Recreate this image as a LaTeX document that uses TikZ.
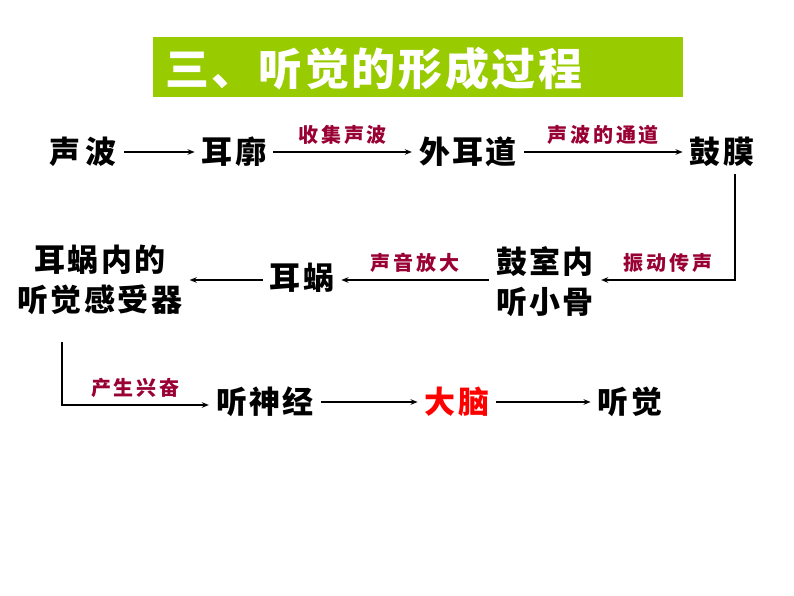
\documentclass[tikz,border=0pt]{standalone}
\usepackage{fontspec}
\usetikzlibrary{arrows.meta}
\newfontfamily\cjk[LetterSpace=8]{Noto Sans CJK SC}
\newfontfamily\cjktitle[LetterSpace=6]{Noto Sans CJK SC}
\newfontfamily\cjklab[LetterSpace=14]{Noto Sans CJK SC}
\definecolor{titlegreen}{HTML}{99CC00}
\definecolor{labred}{HTML}{990033}
\tikzset{
  x=1pt,y=-1pt,
  main/.style={font=\cjk\bfseries\fontsize{31}{40}\selectfont, inner sep=7pt, align=center},
  lab/.style={font=\cjklab\bfseries\fontsize{20}{22}\selectfont, text=labred, inner sep=2pt},
  arr/.style={line width=1.4pt, -{Stealth[length=7pt,width=5.5pt]}},
}
\begin{document}
\begin{tikzpicture}
\useasboundingbox[fill=white] (0,0) rectangle (794,596);
\fill[titlegreen] (153,37) rectangle (683,97);
\node[font=\cjktitle\bfseries\fontsize{44}{48}\selectfont, text=white, anchor=west, inner sep=0pt] (title) at (165,69) {三、听觉的形成过程};
% row 1
\node[main] (a) at (83,152) {声\,波};
\node[main] (b) at (234,152) {耳廓};
\node[main] (c) at (468,152) {外耳道};
\node[main] (d) at (722,152) {鼓膜};
% row 2
\node[main] (e) at (545,282) {鼓室内\\听小骨};
\node[main] (f) at (302,278) {耳蜗};
\node[main] (g) at (100,280) {耳蜗内的\\听觉感受器};
% row 3
\node[main] (h) at (265,402) {听神经};
\node[main, text=red] (i) at (457,402) {大脑};
\node[main] (j) at (630,402) {听觉};
\coordinate (k1) at (735,280);
\coordinate (k2) at (62,342);
\coordinate (k3) at (62,405);
\draw[arr] (a) -- (b);
\draw[arr] (b) -- node[lab, above=5pt] {收集声波} (c);
\draw[arr] (c) -- node[lab, above=5pt] {声波的通道} (d);
\draw[arr] (d.south -| k1) -- (k1) -- node[lab, above=5pt] {振动传声} (e.east |- k1);
\draw[arr] (e.west |- k1) -- node[lab, above=5pt] {声音放大} (f.east |- k1);
\draw[arr] (f.west |- k1) -- (g.east |- k1);
\draw[arr] (k2) -- (k3) -- node[lab, above=5pt] {产生兴奋} (h.west |- k3);
\draw[arr] (h) -- (i);
\draw[arr] (i) -- (j);
\end{tikzpicture}
\end{document}
